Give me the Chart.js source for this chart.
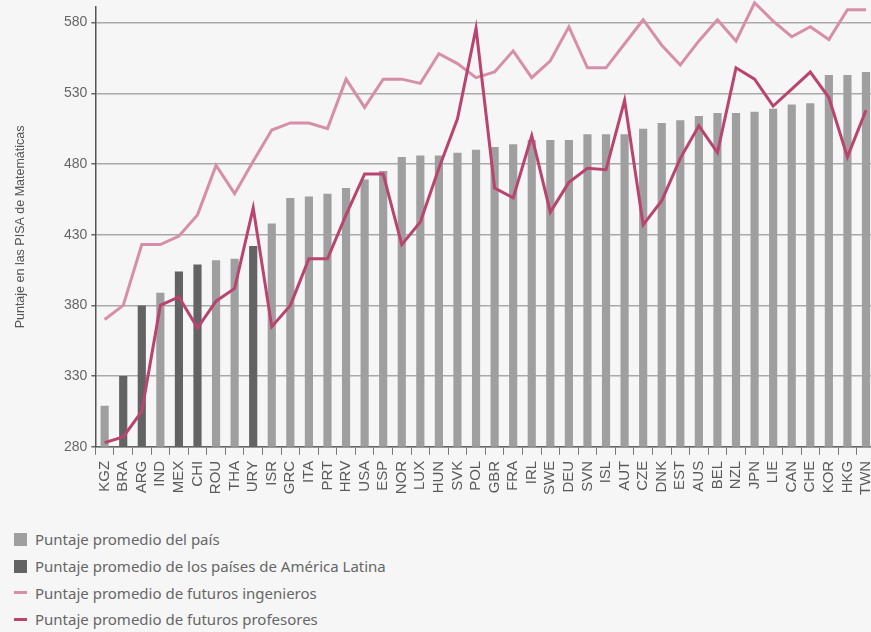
<!DOCTYPE html>
<html lang="es">
<head>
<meta charset="utf-8">
<title>Puntaje PISA de Matemáticas</title>
<script src="https://cdn.jsdelivr.net/npm/chart.js@4.4.1/dist/chart.umd.min.js"></script>
<style>
  html, body { margin: 0; padding: 0; background: #f6f6f6; overflow: hidden; width: 871px; height: 632px; }
  #chart-box { position: relative; width: 890px; height: 501px; }
  #legend { list-style: none; margin: 25px 0 0 0; padding: 0 0 0 14px; font-family: 'Noto Sans', sans-serif; font-size: 15px; color: #666; }
  #legend li { display: flex; align-items: center; height: 26.7px; }
  #legend .swatch { width: 13px; height: 13px; margin-right: 8px; flex: none; }
  #legend .swatch.line { height: 3px; }
</style>
</head>
<body>
<div id="chart-box"><canvas id="pisa-chart"></canvas></div>
<ul id="legend"></ul>
<script>
const countries = ['KGZ', 'BRA', 'ARG', 'IND', 'MEX', 'CHI', 'ROU', 'THA', 'URY', 'ISR', 'GRC', 'ITA', 'PRT', 'HRV',
  'USA', 'ESP', 'NOR', 'LUX', 'HUN', 'SVK', 'POL', 'GBR', 'FRA', 'IRL', 'SWE', 'DEU', 'SVN', 'ISL', 'AUT', 'CZE',
  'DNK', 'EST', 'AUS', 'BEL', 'NZL', 'JPN', 'LIE', 'CAN', 'CHE', 'KOR', 'HKG', 'TWN'];
const latamCodes = ['BRA', 'ARG', 'MEX', 'CHI', 'URY'];

// puntaje promedio del país
const countryScores = [309, 330, 380, 389, 404, 409, 412, 413, 422, 438, 456, 457, 459, 463,
  469, 475, 485, 486, 486, 488, 490, 492, 494, 497, 497, 497, 501, 501, 501, 505,
  509, 511, 514, 516, 516, 517, 519, 522, 523, 543, 543, 545];
// futuros ingenieros
const engineerScores = [370, 380, 423, 423, 429, 444, 479, 459, 482, 504, 509, 509, 505, 540,
  520, 540, 540, 537, 558, 551, 541, 545, 560, 541, 553, 577, 548, 548, 565, 582,
  564, 550, 567, 582, 567, 594, 581, 570, 577, 568, 589, 589];
// futuros profesores
const teacherScores = [283, 287, 305, 380, 386, 364, 383, 392, 449, 365, 380, 413, 413, 444,
  473, 473, 423, 439, 477, 512, 576, 463, 456, 500, 446, 467, 477, 476, 525, 437,
  454, 484, 507, 488, 548, 540, 521, 533, 545, 527, 485, 518];

const yTicks = [280, 330, 380, 430, 480, 530, 580];

const axisFont = "'Liberation Sans', Arial, sans-serif";
const isLatam = (code) => latamCodes.includes(code);

const datasets = [
  {
    type: 'bar',
    label: 'Puntaje promedio del país',
    data: countryScores.map((v, i) => (isLatam(countries[i]) ? null : v)),
    backgroundColor: '#9f9f9f',
    grouped: false,
    barPercentage: 0.44,
    categoryPercentage: 1,
    order: 2,
  },
  {
    type: 'bar',
    label: 'Puntaje promedio de los países de América Latina',
    data: countryScores.map((v, i) => (isLatam(countries[i]) ? v : null)),
    backgroundColor: '#636363',
    grouped: false,
    barPercentage: 0.44,
    categoryPercentage: 1,
    order: 2,
  },
  {
    type: 'line',
    label: 'Puntaje promedio de futuros ingenieros',
    data: engineerScores,
    borderColor: '#d78fa9',
    borderWidth: 3,
    pointRadius: 0,
    tension: 0,
    clip: false,
    order: 1,
  },
  {
    type: 'line',
    label: 'Puntaje promedio de futuros profesores',
    data: teacherScores,
    borderColor: '#b8446f',
    borderWidth: 3,
    pointRadius: 0,
    tension: 0,
    clip: false,
    order: 0,
  },
];

const chart = new Chart(document.getElementById('pisa-chart'), {
  data: { labels: countries, datasets },
  options: {
    responsive: true,
    maintainAspectRatio: false,
    animation: false,
    layout: { padding: { left: 9, top: 7, right: 0, bottom: 0 } },
    plugins: { legend: { display: false }, tooltip: { enabled: false } },
    scales: {
      x: {
        offset: true,
        border: { color: '#666', width: 1.5 },
        grid: { offset: true, drawOnChartArea: false, tickLength: 8, tickColor: '#777', lineWidth: 1 },
        ticks: {
          autoSkip: false, maxRotation: 90, minRotation: 90, padding: 6,
          color: '#5a5a5a', font: { family: axisFont, size: 15 },
        },
      },
      y: {
        min: 280,
        max: 591,
        afterBuildTicks: (axis) => { axis.ticks = yTicks.map((value) => ({ value })); },
        // el 580 no toca el borde, no hace falta el margen extra arriba
        afterFit: (axis) => { axis.paddingTop = 0; },
        border: { color: '#555', width: 1.5 },
        grid: { color: '#a9a9a9', lineWidth: 1.5, tickLength: 4, tickColor: '#666' },
        ticks: { padding: 4, color: '#666', font: { family: axisFont, size: 14 } },
        title: {
          display: true,
          text: 'Puntaje en las PISA de Matemáticas',
          color: '#555',
          font: { family: axisFont, size: 12.5 },
          padding: { top: 4, bottom: 32 },
        },
      },
    },
  },
});

// leyenda propia, una entrada por fila
const legend = document.getElementById('legend');
legend.innerHTML = chart.data.datasets.map((ds) => {
  const color = ds.type === 'bar' ? ds.backgroundColor : ds.borderColor;
  const cls = ds.type === 'bar' ? 'swatch' : 'swatch line';
  return `<li><span class="${cls}" style="background:${color}"></span>${ds.label}</li>`;
}).join('');
</script>
</body>
</html>
